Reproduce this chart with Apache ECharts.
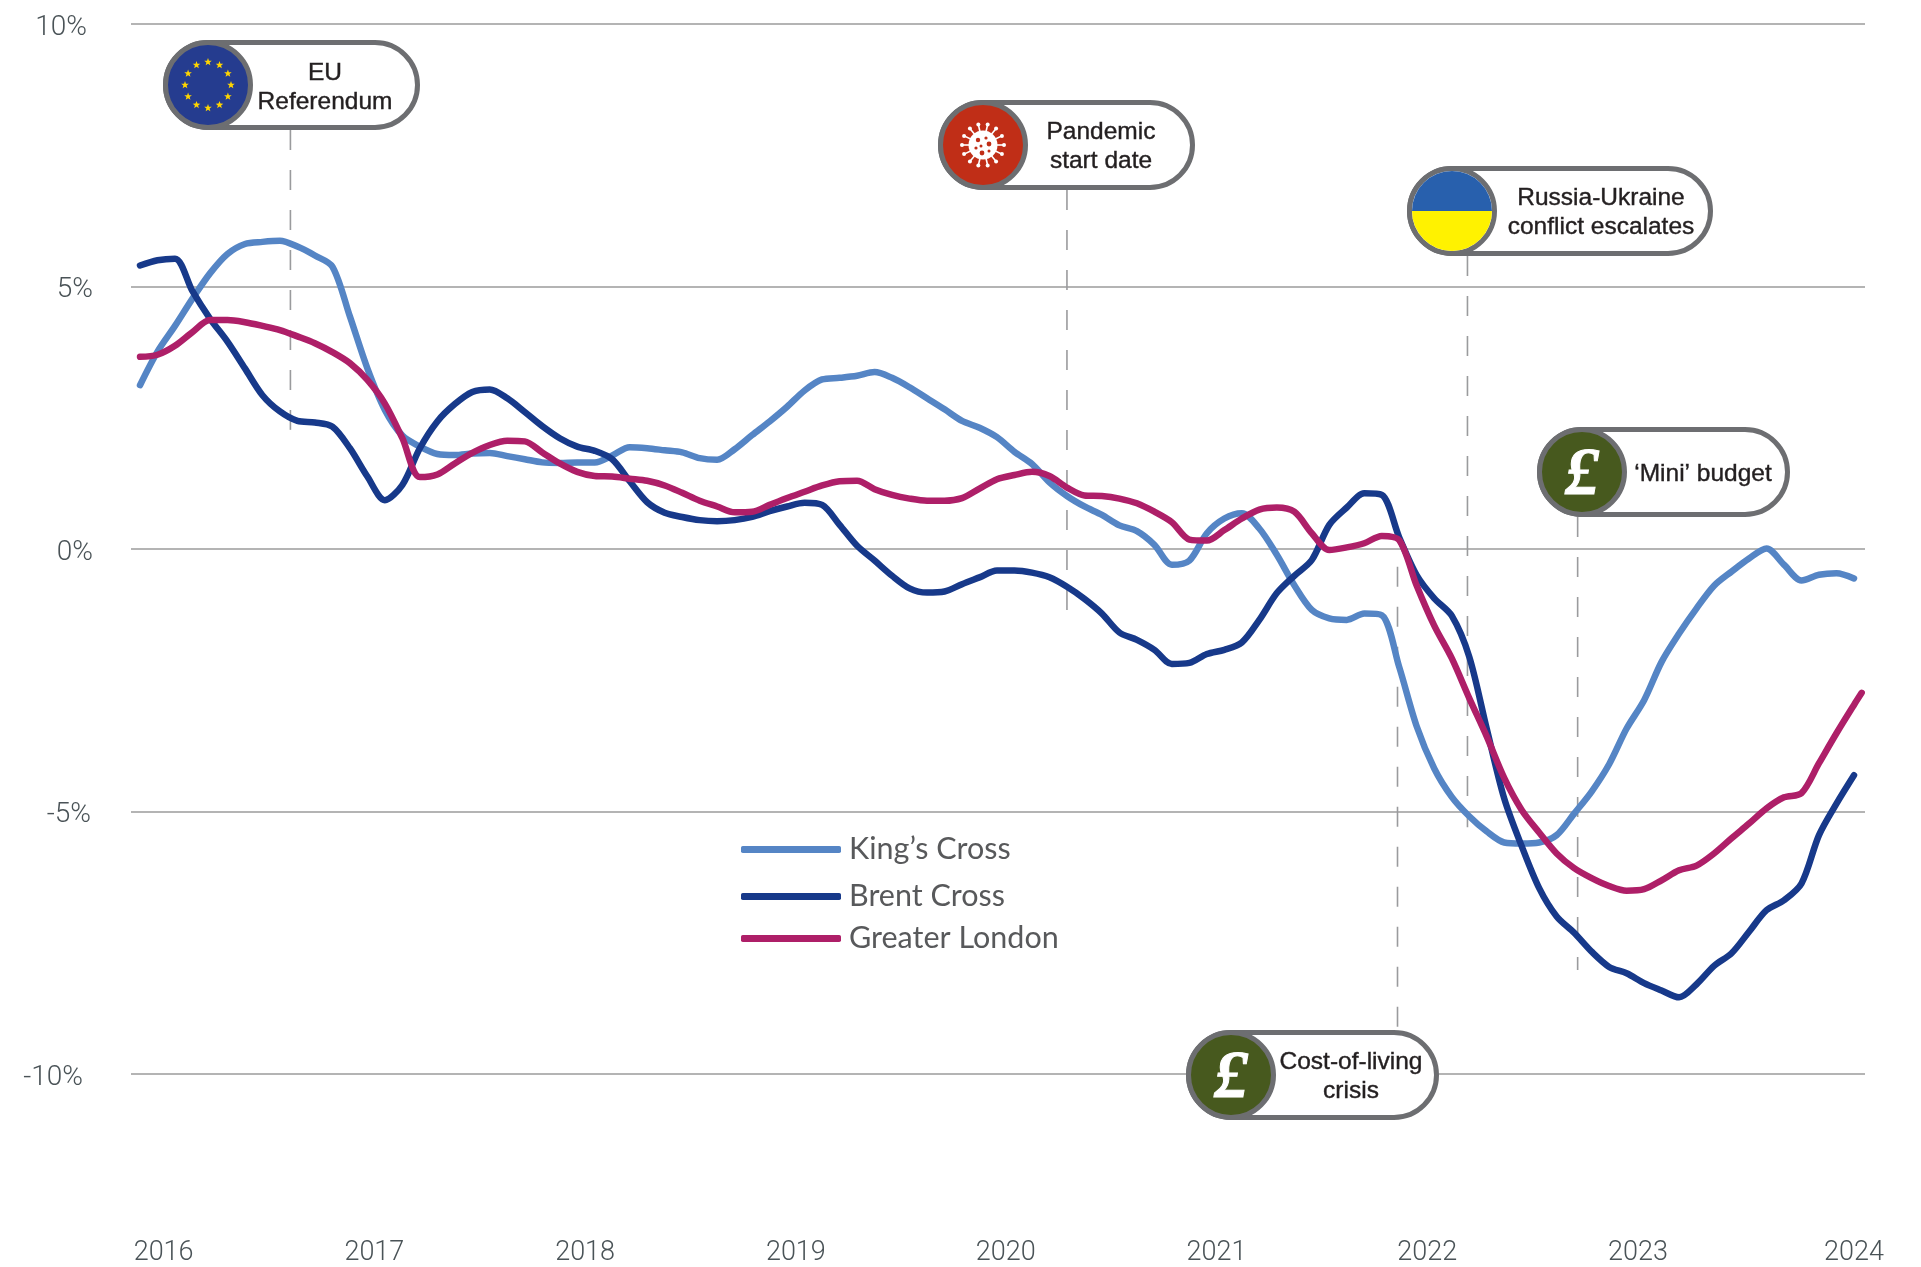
<!DOCTYPE html>
<html>
<head>
<meta charset="utf-8">
<title>Rental growth</title>
<script src="https://cdn.jsdelivr.net/npm/echarts@6/dist/echarts.min.js"></script>
<style>
html, body { margin: 0; padding: 0; background: #fff; }
#chart { width: 1921px; height: 1267px; }
</style>
</head>
<body>
<div id="chart"></div>
<script>
// annual growth, % - one value per month position
var kingsCross = [
  3.12,3.76,4.25,4.77,5.25,5.62,5.81,5.85,5.87,5.76,5.59,5.38,4.43,3.44,2.65,2.16,1.95,1.81,1.79,1.82,1.83,1.77,1.71,1.65,1.64,1.65,
  1.65,1.78,1.94,1.92,1.88,1.84,1.73,1.70,1.90,2.17,2.43,2.71,3.02,3.23,3.26,3.30,3.37,3.26,3.08,2.87,2.66,2.44,2.31,2.13,1.85,
  1.62,1.27,1.01,0.81,0.65,0.45,0.34,0.08,-0.30,-0.22,0.30,0.58,0.68,0.39,-0.11,-0.69,-1.16,-1.32,-1.35,-1.23,-1.26,-2.25,-3.38,
  -4.18,-4.72,-5.09,-5.38,-5.59,-5.61,-5.59,-5.45,-5.04,-4.62,-4.10,-3.42,-2.88,-2.15,-1.61,-1.13,-0.70,-0.43,-0.18,0.01,-0.30,-0.60,-0.49,-0.46,-0.56
];
var brentCross = [
  5.40,5.50,5.53,4.91,4.39,3.95,3.44,2.93,2.62,2.44,2.41,2.33,1.92,1.38,0.93,1.22,1.92,2.43,2.76,2.99,3.04,2.87,2.61,2.34,2.11,1.95,
  1.87,1.71,1.29,0.89,0.69,0.61,0.55,0.53,0.55,0.61,0.72,0.81,0.88,0.84,0.46,0.06,-0.22,-0.51,-0.75,-0.83,-0.81,-0.67,-0.54,-0.41,-0.41,
  -0.45,-0.54,-0.72,-0.95,-1.23,-1.59,-1.73,-1.92,-2.19,-2.17,-2.00,-1.92,-1.78,-1.35,-0.84,-0.51,-0.21,0.46,0.79,1.06,1.03,0.22,-0.50,-0.94,-1.27,
  -2.05,-3.42,-4.75,-5.66,-6.46,-7.00,-7.31,-7.67,-7.96,-8.08,-8.27,-8.41,-8.54,-8.29,-7.94,-7.70,-7.29,-6.88,-6.69,-6.37,-5.45,-4.85,-4.31
];
var greaterLondon = [
  3.66,3.70,3.87,4.13,4.36,4.36,4.32,4.25,4.17,4.05,3.92,3.75,3.54,3.22,2.77,2.11,1.37,1.42,1.63,1.83,1.98,2.06,2.05,1.84,1.63,1.47,
  1.39,1.38,1.34,1.30,1.21,1.07,0.92,0.81,0.70,0.71,0.84,0.97,1.09,1.21,1.29,1.30,1.14,1.03,0.96,0.92,0.92,0.97,1.15,1.33,1.41,
  1.47,1.39,1.17,1.02,1.01,0.96,0.87,0.71,0.51,0.18,0.16,0.36,0.58,0.75,0.79,0.71,0.30,-0.02,0.03,0.11,0.25,0.17,-0.70,-1.46,-2.08,
  -2.84,-3.57,-4.36,-4.97,-5.40,-5.80,-6.08,-6.27,-6.42,-6.51,-6.48,-6.31,-6.12,-6.03,-5.80,-5.51,-5.23,-4.94,-4.73,-4.65,-4.08,-3.51,-2.97,-2.74
];
var londonLastMonth = 98.44;

var yearLabels = ['2016','2017','2018','2019','2020','2021','2022','2023','2024'];
var yearTicks = [1.35,13.4,25.45,37.5,49.5,61.55,73.6,85.65,98.0];

var eventLabels = [
  ['EU','Referendum'],
  ['Pandemic','start date'],
  ['Russia-Ukraine','conflict escalates'],
  ['\u2018Mini\u2019 budget'],
  ['Cost-of-living','crisis']
];
var eventIcons = ['eu','virus','ukraine','pound','pound'];
var eventMonths = [8.6,53.0,75.9,82.2,71.9];
var eventLineEnds = [2.27,-1.20,-5.30,-8.02,-0.34];

// pill layout in px, same order as the events
var pills = [
  {left:163, top:40, width:257, textX:325, textY:88},
  {left:938, top:100, width:257, textX:1101, textY:147},
  {left:1407, top:166, width:306, textX:1601, textY:213},
  {left:1537, top:427, width:253, textX:1703, textY:474},
  {left:1186, top:1030, width:253, textX:1351, textY:1077}
];
var pillH = 90;

var grey = '#6d6e71';

function star(cx, cy, r) {
  var pts = [];
  for (var i = 0; i < 10; i++) {
    var a = -Math.PI / 2 + i * Math.PI / 5;
    var rr = i % 2 ? r * 0.42 : r;
    pts.push([cx + rr * Math.cos(a), cy + rr * Math.sin(a)]);
  }
  return {type:'polygon', shape:{points:pts}, style:{fill:'#ffd500'}};
}

function iconShapes(kind, cx, cy) {
  var r = 40, out = [], i, a;
  var disc = function(fill) {
    return {type:'circle', shape:{cx:cx, cy:cy, r:r + 2.5}, style:{fill:fill, stroke:grey, lineWidth:5}};
  };
  if (kind == 'eu') {
    out.push(disc('#253c8f'));
    for (i = 0; i < 12; i++) {
      a = i * Math.PI / 6;
      out.push(star(cx + 23 * Math.cos(a), cy + 23 * Math.sin(a), 4));
    }
  } else if (kind == 'virus') {
    out.push(disc('#c02e17'));
    out.push({type:'circle', shape:{cx:cx, cy:cy, r:14.5}, style:{fill:'#fff'}});
    for (i = 0; i < 14; i++) {
      a = i * Math.PI / 7;
      out.push({type:'line', shape:{x1:cx + 12 * Math.cos(a), y1:cy + 12 * Math.sin(a), x2:cx + 21 * Math.cos(a), y2:cy + 21 * Math.sin(a)},
        style:{stroke:'#fff', lineWidth:1.6}});
      out.push({type:'circle', shape:{cx:cx + 21 * Math.cos(a), cy:cy + 21 * Math.sin(a), r:2}, style:{fill:'#fff'}});
    }
    [[-5,-5,2.2],[3,-7,1.6],[6,-1,2.4],[-2,1,1.5],[-7,3,1.6],[-1,8,2.4],[6,6,1.5]].forEach(function(d) {
      out.push({type:'circle', shape:{cx:cx + d[0], cy:cy + d[1], r:d[2]}, style:{fill:'#c02e17'}});
    });
  } else if (kind == 'ukraine') {
    out.push(disc('#fff'));
    out.push({type:'sector', shape:{cx:cx, cy:cy, r:r, r0:0, startAngle:Math.PI, endAngle:Math.PI * 2}, style:{fill:'#2860ad'}});
    out.push({type:'sector', shape:{cx:cx, cy:cy, r:r, r0:0, startAngle:0, endAngle:Math.PI}, style:{fill:'#fff200'}});
  } else {
    out.push(disc('#47591e'));
    out.push({type:'text', style:{x:cx, y:cy + 4, text:'\u00a3', fill:'#fff', stroke:'#fff', lineWidth:1, align:'center', verticalAlign:'middle',
      font:'italic bold 68px "Liberation Serif"'}});
  }
  return out;
}

function renderEvent(params, api) {
  var i = params.dataIndex;
  var p = pills[i];
  var x = api.coord([api.value(0), 0])[0];
  var end = api.coord([0, api.value(1)])[1];
  var kids = [];
  var y1 = p.top + pillH, y2 = end;
  if (i == 4) { y1 = end; y2 = p.top; }
  kids.push({type:'line', shape:{x1:x, y1:y1, x2:x, y2:y2}, style:{stroke:'#9a9b9d', lineWidth:1.6, lineDash:[20,20]}});
  kids.push({type:'rect', shape:{x:p.left + 2.5, y:p.top + 2.5, width:p.width - 5, height:pillH - 5, r:42.5},
    style:{fill:'#fff', stroke:grey, lineWidth:5}});
  kids = kids.concat(iconShapes(eventIcons[i], p.left + 45, p.top + 45));
  var lines = eventLabels[i];
  lines.forEach(function(t, n) {
    kids.push({type:'text', style:{x:p.textX, y:p.textY + (n - (lines.length - 1) / 2) * 29, text:t, fill:'#231f20',
      stroke:'#231f20', lineWidth:0.4, align:'center', verticalAlign:'middle', font:'24.5px "Liberation Sans"'}});
  });
  return {type:'group', children:kids};
}

function toPoints(values) {
  return values.map(function(v, i) { return [i, v]; });
}

var londonPoints = toPoints(greaterLondon);
londonPoints[londonPoints.length - 1][0] = londonLastMonth;

function legendAt(name, top) {
  return {
    data:[name], left:741, top:top, itemWidth:100, itemHeight:7, icon:'roundRect',
    selectedMode:false, padding:0, itemStyle:{borderRadius:3.5},
    textStyle:{fontFamily:'Lato', fontSize:30.5, color:'#58595b', padding:[0,0,0,3]}
  };
}

function tickRich(pad) {
  return {fontFamily:'Roboto', fontWeight:300, fontSize:28, color:'#4a5357', padding:[7,pad,0,0]};
}

var chart = echarts.init(document.getElementById('chart'), null, {renderer:'canvas'});
chart.setOption({
  animation:false,
  backgroundColor:'#fff',
  grid:{left:131, top:24, width:1734, height:1050},
  legend:[legendAt('King\u2019s Cross', 834), legendAt('Brent Cross', 881), legendAt('Greater London', 923)],
  xAxis:{
    type:'value', min:-0.515, max:98.63,
    splitLine:{show:false}, axisLine:{show:false}, axisTick:{show:false},
    axisLabel:{
      customValues:yearTicks, margin:166, showMinLabel:true, showMaxLabel:true,
      fontFamily:'Roboto', fontWeight:300, fontSize:27, color:'#4a5357',
      formatter:function(v) { return yearLabels[yearTicks.indexOf(v)]; }
    }
  },
  yAxis:{
    type:'value', min:-10, max:10, interval:5,
    axisLine:{show:false}, axisTick:{show:false},
    splitLine:{lineStyle:{color:'#9b9b9b', width:1.5}},
    axisLabel:{
      margin:38,
      formatter:function(v) { return '{p' + (v < 0 ? 'n' : '') + Math.abs(v) + '|' + v + '%}'; },
      rich:{p10:tickRich(6), p5:tickRich(0), p0:tickRich(0), pn5:tickRich(2), pn10:tickRich(10)}
    }
  },
  series:[
    {
      type:'custom', name:'events', z:1, clip:false, silent:true,
      data:eventMonths.map(function(m, i) { return [m, eventLineEnds[i]]; }),
      renderItem:renderEvent
    },
    {name:'King\u2019s Cross', type:'line', z:2, data:toPoints(kingsCross), smooth:0.3, showSymbol:false, symbol:'none',
      itemStyle:{color:'#5585c5'}, lineStyle:{color:'#5585c5', width:6.5, cap:'round', join:'round'}},
    {name:'Brent Cross', type:'line', z:3, data:toPoints(brentCross), smooth:0.3, showSymbol:false, symbol:'none',
      itemStyle:{color:'#17398a'}, lineStyle:{color:'#17398a', width:6.5, cap:'round', join:'round'}},
    {name:'Greater London', type:'line', z:4, data:londonPoints, smooth:0.3, showSymbol:false, symbol:'none',
      itemStyle:{color:'#ae1f68'}, lineStyle:{color:'#ae1f68', width:6.5, cap:'round', join:'round'}}
  ]
});
</script>
</body>
</html>
